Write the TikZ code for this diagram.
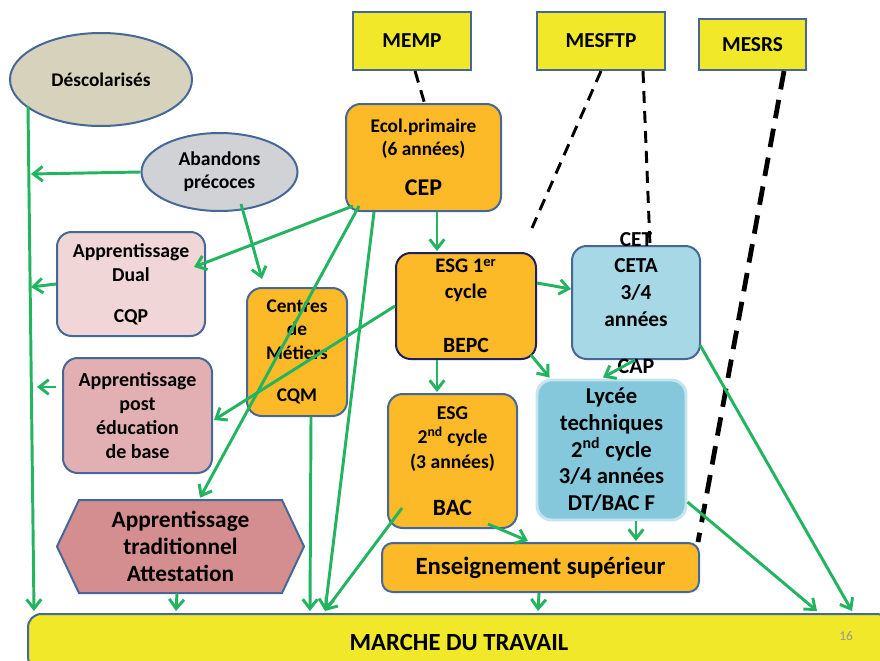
\documentclass[tikz,border=0pt]{standalone}
\usepackage{fontspec}
\setmainfont{Carlito}
\usetikzlibrary{arrows.meta,calc,shapes.geometric}
\definecolor{ylw}{RGB}{240,232,40}
\definecolor{bord}{RGB}{70,104,152}
\definecolor{navy}{RGB}{32,32,96}
\definecolor{orng}{RGB}{252,185,40}
\definecolor{descc}{RGB}{214,210,188}
\definecolor{abandc}{RGB}{208,210,214}
\definecolor{dualc}{RGB}{240,214,214}
\definecolor{postc}{RGB}{226,176,178}
\definecolor{tradc}{RGB}{213,142,143}
\definecolor{cetac}{RGB}{167,216,230}
\definecolor{lycc}{RGB}{133,200,220}
\definecolor{lycb}{RGB}{196,228,238}
\definecolor{grn}{RGB}{34,180,95}
\definecolor{pgnum}{RGB}{150,150,150}
\tikzset{
  sz/.style 2 args={minimum width=#1*0.75pt, minimum height=#2*0.75pt},
  fs/.style 2 args={font=\fontsize{#1}{#2}\selectfont\bfseries},
  yb/.style={draw=bord, fill=ylw, line width=1.5pt, inner sep=0pt, align=center},
  ell/.style={ellipse, draw=bord, line width=1.5pt, inner sep=0pt, align=center},
  bx/.style={draw=bord, line width=1.5pt, rounded corners=11pt, inner sep=0pt, align=center},
  lbl/.style={inner sep=0pt, align=center},
  garr/.style={draw=grn, line width=2.2pt, -{Straight Barb[length=7pt,width=11pt]}},
  blk/.style={draw=black, line width=2.2pt, dash pattern=on 9pt off 6pt},
  blkt/.style={draw=black, line width=3.6pt, dash pattern=on 14pt off 8pt},
}
\begin{document}
\begin{tikzpicture}[x=0.75pt,y=-0.75pt]
\useasboundingbox (0,0) rectangle (880,660);
\clip (0,0) rectangle (880,660);
\fill[white] (0,0) rectangle (880,660);

% ministries
\node[yb, sz={118}{58}, fs={16}{19}] (memp) at (412,41) {MEMP};
\node[yb, sz={128}{58}, fs={16}{19}] (mesftp) at (601,41) {MESFTP};
\node[yb, sz={107}{51}, fs={16}{19}] (mesrs) at (752.5,44.5) {MESRS};

% ellipses
\node[ell, fill=descc, sz={182}{93}, fs={14.5}{17}] (desc) at (101,79.5) {Déscolarisés};
\node[ell, fill=abandc, sz={156}{78}, fs={14.7}{17.3}] (aband) at (219.5,172) {Abandons\\précoces};

% boxes
\node[bx, fill=orng, sz={155}{107}, fs={14.5}{17.2}] (ecol) at (423.5,157.5) {Ecol.primaire\\(6 années)\\[13pt]{\fontsize{18}{20}\selectfont CEP}};
\node[bx, draw=navy, fill=orng, sz={140}{106}, fs={15.5}{19.5}] (esg1) at (466,306) {ESG 1\textsuperscript{er}\\cycle\\[21pt]{\fontsize{16.3}{19.5}\selectfont BEPC}};
\node[bx, fill=cetac, sz={128}{113}, fs={16}{20}] (ceta) at (636,302.5) {CETA\\3/4\\années\\[-5pt]\mbox{}};
\node[bx, fill=orng, sz={100}{128}, fs={14.5}{17.6}] (centres) at (297,352) {Centres\\de\\Métiers\\[14.5pt]CQM};
\node[bx, fill=dualc, sz={148}{104}, fs={14.8}{18}] (dual) at (131,284) {Apprentissage\\Dual\\[12.75pt]CQP};
\node[bx, fill=postc, sz={149}{115}, fs={15}{18}] (post) at (137.5,415.5) {Apprentissage\\post\\éducation\\de base};
\draw[fill=tradc, draw=bord, line width=1.5pt] (57,546.5) -- (79,500) -- (282,500) -- (304,546.5) -- (282,593) -- (79,593) -- cycle;
\node[lbl, sz={247}{93}, fs={17.5}{20}] (trad) at (180.5,546.5) {Apprentissage\\traditionnel\\Attestation};
\node[bx, fill=orng, sz={129}{134}, fs={14.7}{18.4}] (esg2) at (452.5,461) {ESG\\2\textsuperscript{nd} cycle\\(3 années)\\[17pt]{\fontsize{17.5}{19}\selectfont BAC}};
\node[bx, draw=lycb, line width=2.2pt, fill=lycc, sz={149}{140}, fs={17}{20}] (lycee) at (611.5,450) {Lycée\\techniques\\2\textsuperscript{nd} cycle\\3/4 années\\DT/BAC F};
\node[bx, rounded corners=8pt, fill=orng, sz={317}{49}, fs={18.6}{21}] (ens) at (540.5,567.5) {Enseignement supérieur};
\node[bx, rounded corners=10pt, fill=ylw, sz={862}{56}, fs={18.5}{22}] (marche) at (459,642) {MARCHE DU TRAVAIL};
\node[lbl, font=\fontsize{10}{12}\selectfont, text=pgnum] (pg) at (846,636) {16};

\node[lbl, fs={16}{19}] (cet) at (636,240) {CET};
\node[lbl, fs={16.5}{19}] (cap) at (636,366) {CAP};

% free ends
\coordinate (L1) at (31,174);
\coordinate (L2) at (31,287);
\coordinate (L3) at (37,387);
\coordinate (D1) at (532,228);

% dashed supervision lines
\draw[blk] ($(memp.south)+(3,0)$) -- ($(ecol.north)+(1,0)$);
\draw[blk] (mesftp.south) -- (D1);
\draw[blk] ($(mesftp.south)+(42,0)$) -- ($(ceta.north)+(14,0)$);
\draw[blkt] ($(mesrs.south)+(31.5,0)$) -- ($(ens.north east)+(-2,0)$);

% green arrows
\draw[garr] ($(desc)+(-73,26.5)$) -- ($(marche.north west)+(7,-2)$);
\draw[garr] (aband.west) -- (L1);
\draw[garr] ($(aband)+(21.5,32)$) -- ($(centres.north)+(-35,-8)$);
\draw[garr] (dual.west) -- (L2);
\draw[garr] ($(ecol.south west)+(8,-6)$) -- ($(dual.north east)+(-12,36)$);
\draw[garr] ($(ecol.south west)+(14,-6)$) -- ($(trad.north)+(19.5,-2)$);
\draw[garr] ($(ecol.south west)+(29,0)$) -- ($(marche.north west)+(298,-2)$);
\draw[garr] ($(ecol.south)+(13.5,0)$) -- ($(esg1.north)+(-29,-1)$);
\draw[garr] (esg1.west) -- ($(post.east)+(1,4.5)$);
\draw[garr] ($(post.west)+(-6,-28.5)$) -- (L3);
\draw[garr] ($(centres.south)+(14,0)$) -- ($(marche.north west)+(283,-2)$);
\draw[garr] ($(trad.south)+(-3.5,0)$) -- ($(marche.north west)+(149,-2)$);
\draw[garr] ($(esg2)+(-50.5,47)$) -- ($(marche.north west)+(298,-2)$);
\draw[garr] ($(esg1.east)+(0,-23)$) -- ($(ceta.west)+(0,-13.5)$);
\draw[garr] ($(esg1.south east)+(-6,-5)$) -- ($(lycee.north west)+(14,-1)$);
\draw[garr] ($(esg1.south)+(-29,0)$) -- ($(esg2.north)+(-15.5,-1)$);
\draw[garr] ($(ceta.south)+(-1,0)$) -- ($(lycee.north)+(-8.5,-1)$);
\draw[garr] ($(ceta.east)+(-1,42.5)$) -- ($(marche.north west)+(825,-2)$);
\draw[garr] ($(lycee.east)+(0,52)$) -- ($(marche.north west)+(790,-2)$);
\draw[garr] ($(lycee.south)+(24.5,0)$) -- ($(ens.north)+(95.5,-1)$);
\draw[garr] ($(esg2)+(35.5,63)$) -- ($(ens.north)+(-12.5,-1)$);
\draw[garr] ($(ens.south)+(-1.5,0)$) -- ($(marche.north west)+(511,-2)$);
\end{tikzpicture}
\end{document}
